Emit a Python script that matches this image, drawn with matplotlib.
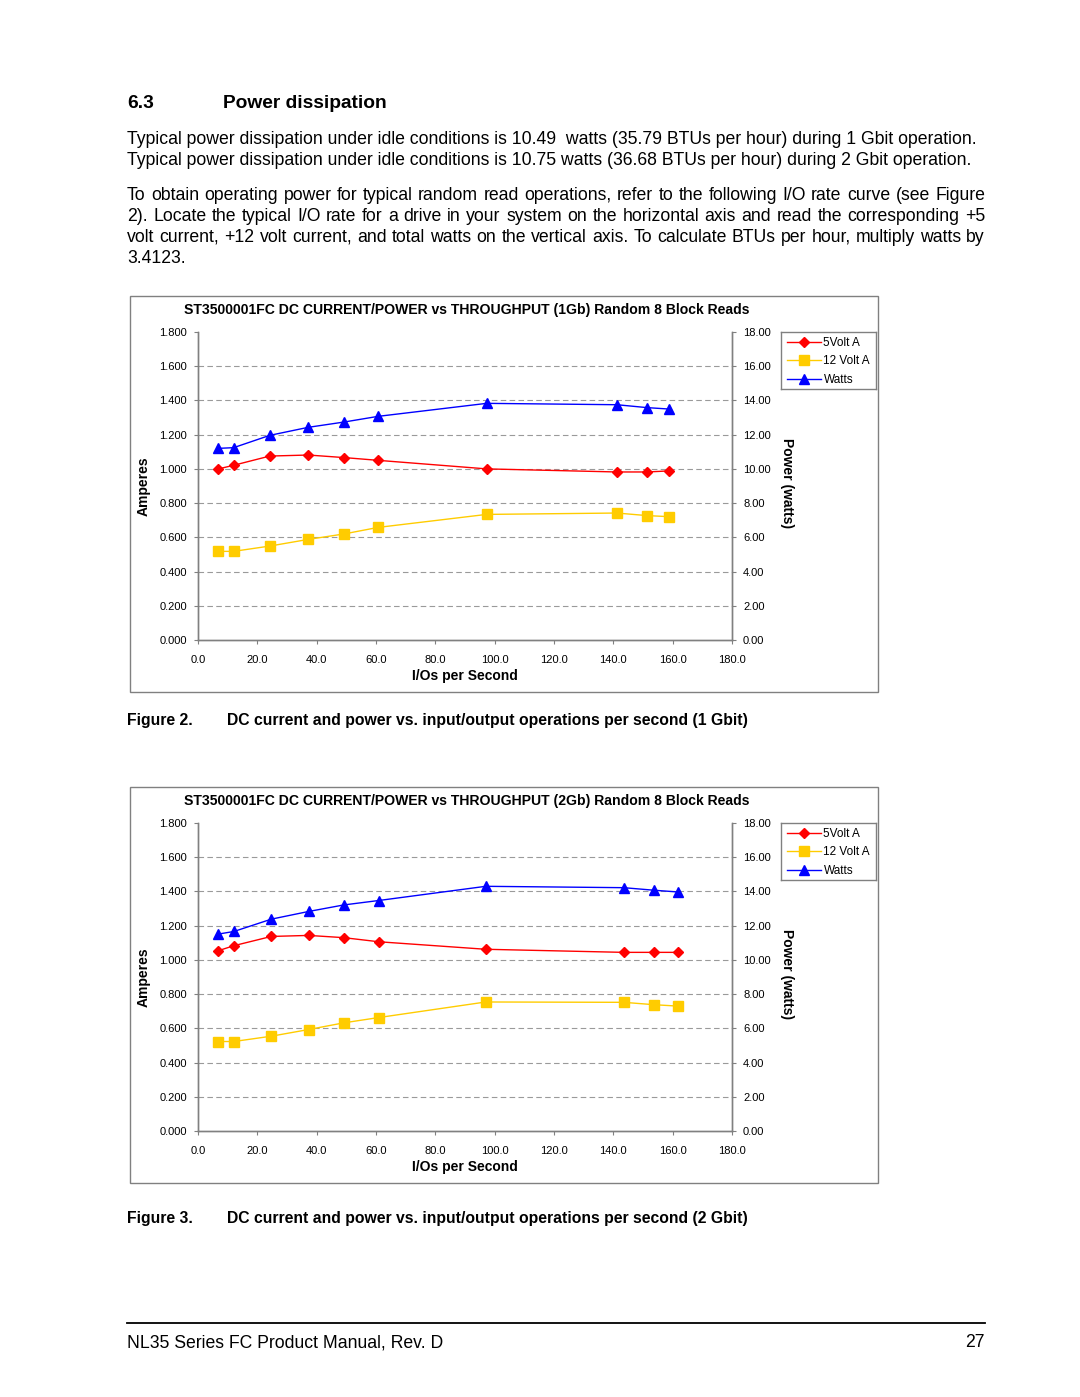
import matplotlib
matplotlib.use("Agg")
import matplotlib.pyplot as plt
from matplotlib.patches import Rectangle
from matplotlib.lines import Line2D

plt.rcParams['font.family'] = ['Liberation Sans', 'DejaVu Sans']

W, H = 1080, 1397

# chart data
iops_1g = [6.9, 12.0, 24.2, 37.2, 49.3, 60.7, 97.3, 141.2, 151.4, 158.6]
volt5_1g = [1.000, 1.021, 1.075, 1.081, 1.066, 1.050, 1.000, 0.982, 0.982, 0.988]
volt12_1g = [0.518, 0.518, 0.549, 0.588, 0.620, 0.658, 0.734, 0.742, 0.727, 0.721]
watts_1g = [11.20, 11.24, 11.96, 12.43, 12.74, 13.07, 13.83, 13.75, 13.58, 13.50]

iops_2g = [6.9, 12.1, 24.7, 37.3, 49.1, 60.9, 97.0, 143.5, 153.8, 161.7]
volt5_2g = [1.054, 1.083, 1.137, 1.143, 1.130, 1.106, 1.062, 1.044, 1.044, 1.044]
volt12_2g = [0.523, 0.523, 0.554, 0.593, 0.632, 0.663, 0.754, 0.752, 0.738, 0.730]
watts_2g = [11.51, 11.66, 12.38, 12.83, 13.21, 13.47, 14.30, 14.22, 14.07, 13.97]

series_names = ["5Volt A", "12 Volt A", "Watts"]
amp_ticks = [0.0, 0.2, 0.4, 0.6, 0.8, 1.0, 1.2, 1.4, 1.6, 1.8]
watt_ticks = [0, 2, 4, 6, 8, 10, 12, 14, 16, 18]
x_ticks = [0, 20, 40, 60, 80, 100, 120, 140, 160, 180]

RED, YEL, BLU = '#FF0000', '#FFCC00', '#0000FF'

fig = plt.figure(figsize=(W / 100, H / 100), dpi=100)
renderer = fig.canvas.get_renderer()


def ftext(x, y, s, **kw):
    # x, y in pixels from top-left
    return fig.text(x / W, 1 - y / H, s, **kw)


def frect(x0, y0, x1, y1):
    return [x0 / W, 1 - y1 / H, (x1 - x0) / W, (y1 - y0) / H]


def justified(y, s, x0=127, x1=985, **kw):
    words = s.split(' ')
    objs = [ftext(x0, y, w, **kw) for w in words]
    widths = [o.get_window_extent(renderer).width for o in objs]
    gap = (x1 - x0 - sum(widths)) / (len(words) - 1)
    x = x0
    for o, w in zip(objs, widths):
        o.set_x(x / W)
        x += w + gap


# page text (y = baseline in whole px)
ftext(127, 108, "6.3", fontsize=13.8, fontweight='bold', va='baseline')
ftext(223, 108, "Power dissipation", fontsize=13.8, fontweight='bold', va='baseline')

PFS = 12.7
ftext(127, 144, "Typical power dissipation under idle conditions is 10.49  watts (35.79 BTUs per hour) during 1 Gbit operation.",
      fontsize=PFS, va='baseline')
ftext(127, 165, "Typical power dissipation under idle conditions is 10.75 watts (36.68 BTUs per hour) during 2 Gbit operation.",
      fontsize=PFS, va='baseline')
justified(200, "To obtain operating power for typical random read operations, refer to the following I/O rate curve (see Figure",
          fontsize=PFS, va='baseline')
justified(221, "2). Locate the typical I/O rate for a drive in your system on the horizontal axis and read the corresponding +5",
          fontsize=PFS, va='baseline')
justified(242, "volt current, +12 volt current, and total watts on the vertical axis. To calculate BTUs per hour, multiply watts by",
          fontsize=PFS, va='baseline')
ftext(127, 263, "3.4123.", fontsize=PFS, va='baseline')


def draw_chart(top, title, iops, v5, v12, watts):
    # outer box
    fig.patches.append(Rectangle((130 / W, 1 - (top + 396) / H), 748 / W, 396 / H,
                                 transform=fig.transFigure, fill=False,
                                 edgecolor='#808080', linewidth=1.0))
    ax = fig.add_axes(frect(198, top + 36, 732, top + 344))
    ax2 = ax.twinx()
    ax.set_xlim(0, 180)
    ax.set_ylim(0, 1.8)
    ax2.set_ylim(0, 18)
    ax.set_xticks(x_ticks)
    ax.set_xticklabels([f"{v:.1f}" for v in x_ticks])
    ax.set_yticks(amp_ticks)
    ax.set_yticklabels([f"{v:.3f}" for v in amp_ticks])
    ax2.set_yticks(watt_ticks)
    ax2.set_yticklabels([f"{v:.2f}" for v in watt_ticks])
    for a in (ax, ax2):
        a.spines['top'].set_visible(False)
        for sp in a.spines.values():
            sp.set_color('#808080')
            sp.set_linewidth(1.0)
        a.tick_params(length=3, width=0.8, color='#808080', labelsize=8, pad=5)
    ax.tick_params(axis='x', pad=7.5)
    for g in amp_ticks[1:-1]:
        ax.axhline(g, color='#9a9a9a', linestyle=(0, (5, 3)), linewidth=0.8, zorder=0)
    l1, = ax.plot(iops, v5, color=RED, marker='D', ms=5.5, lw=1.0)
    l2, = ax.plot(iops, v12, color=YEL, marker='s', ms=6.5, lw=1.0)
    l3, = ax2.plot(iops, watts, color=BLU, marker='^', ms=6.5, lw=1.0)
    ax.set_ylabel("Amperes", fontsize=10, fontweight='bold', labelpad=6)
    ax2.set_ylabel("Power (watts)", fontsize=10, fontweight='bold', rotation=-90, labelpad=16)
    ax2.yaxis.set_label_coords(1.116, 0.51)
    ax.set_xlabel("I/Os per Second", fontsize=10, fontweight='bold', labelpad=3)
    ftext(467, top + 14, title, fontsize=10.08, fontweight='bold', ha='center', va='center')
    # legend
    lax = fig.add_axes(frect(781, top + 36, 876, top + 93))
    lax.legend([l1, l2, l3], series_names, loc='upper left', bbox_to_anchor=(0.0, 1.02),
               frameon=False, fontsize=8.5, handlelength=2.9, handletextpad=0.2,
               labelspacing=0.55, borderpad=0.3, borderaxespad=0.2)
    lax.set_xticks([])
    lax.set_yticks([])
    for sp in lax.spines.values():
        sp.set_color('#808080')
        sp.set_linewidth(1.0)


CFS = 11.35
draw_chart(296, "ST3500001FC DC CURRENT/POWER vs THROUGHPUT (1Gb) Random 8 Block Reads",
           iops_1g, volt5_1g, volt12_1g, watts_1g)
ftext(127, 725, "Figure 2.", fontsize=CFS, fontweight='bold', va='baseline')
ftext(227, 725, "DC current and power vs. input/output operations per second (1 Gbit)",
      fontsize=CFS, fontweight='bold', va='baseline')

draw_chart(787, "ST3500001FC DC CURRENT/POWER vs THROUGHPUT (2Gb) Random 8 Block Reads",
           iops_2g, volt5_2g, volt12_2g, watts_2g)
ftext(127, 1223, "Figure 3.", fontsize=CFS, fontweight='bold', va='baseline')
ftext(227, 1223, "DC current and power vs. input/output operations per second (2 Gbit)",
      fontsize=CFS, fontweight='bold', va='baseline')

# footer
fig.add_artist(Line2D([127 / W, 985 / W], [1 - 1323 / H, 1 - 1323 / H],
                      color='black', linewidth=1.3, transform=fig.transFigure))
ftext(127, 1347, "NL35 Series FC Product Manual, Rev. D", fontsize=12.7, va='baseline')
ftext(985, 1347, "27", fontsize=12.7, va='baseline', ha='right')

fig.savefig("out.png", dpi=100, facecolor='white')
